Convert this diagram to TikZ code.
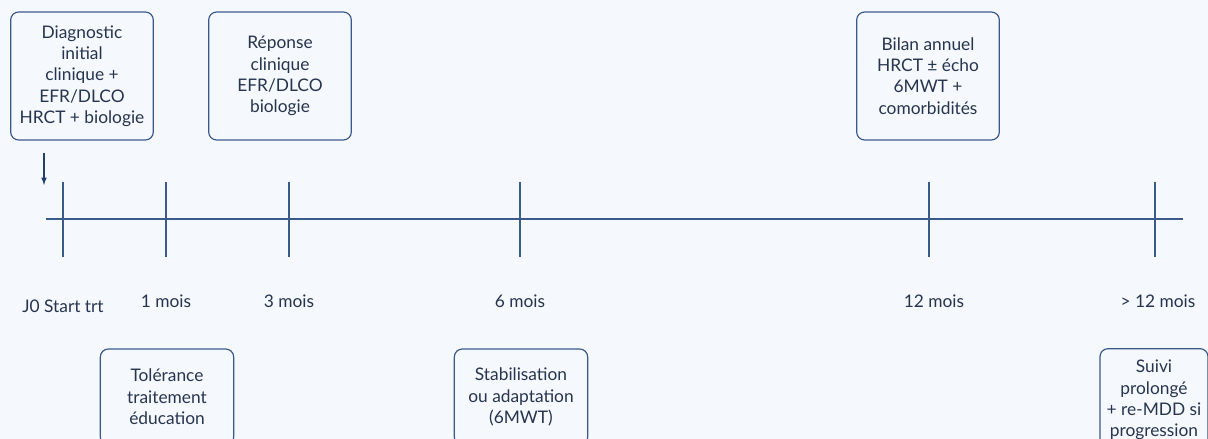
\documentclass[tikz,border=0pt]{standalone}
\usepackage{fontspec}
\setmainfont{Lato}
\usetikzlibrary{calc}
\definecolor{bgcol}{HTML}{F5F8FC}
\definecolor{linecol}{HTML}{3A5A8C}
\definecolor{textcol}{HTML}{26344F}
\definecolor{arrowcol}{HTML}{1F3F6E}

\begin{document}
\begin{tikzpicture}[x=0.75pt,y=-0.75pt,
                    every node/.style={font=\fontsize{13}{16}\selectfont,text=textcol},
                    eventbox/.style={draw=linecol,line width=0.9pt,rounded corners=6pt,fill=bgcol,align=center,inner sep=2pt},
                    topbox/.style={eventbox,minimum width=107pt,minimum height=96pt},
                    lowbox/.style={eventbox,minimum width=100pt,minimum height=72pt},
                    tick/.style={draw=linecol,line width=0.8pt}]
                    \fill[bgcol] (0,0) rectangle (1208,439);
                    \useasboundingbox (0,0) rectangle (1208,439);
                    \def\axisy{219}
                    \def\labely{301}
                    
                    \coordinate (axisstart) at (46,\axisy);
                    \coordinate (axisend) at (1183,\axisy);
                    \draw[tick] (axisstart) -- (axisend); % time axis
                    
                    \foreach \name/\x in {j0/63,m1/166,m3/289,m6/520,m12/929,mlong/1155}{
                      \coordinate (\name) at (\x,\axisy);
                      \draw[tick] (\x,182) -- (\x,257);
                    }
                    
                    % month labels
                    \node (lj0) at (63,306) {J0 Start trt};
                    \node (lm1) at (166,\labely) {1 mois};
                    \node (lm3) at (289,\labely) {3 mois};
                    \node (lm6) at (520,\labely) {6 mois};
                    \node (lm12) at (934,\labely) {12 mois};
                    \node (lmlong) at (1158,\labely) {> 12 mois};
                    
                    % boxes above the axis
                    \node[topbox] (diag) at (82,76) {Diagnostic\\initial\\clinique +\\EFR/DLCO\\HRCT + biologie};
                    \node[topbox] (repo) at (280,76) {Réponse\\clinique\\EFR/DLCO\\biologie};
                    \node[topbox] (bilan) at (928,76) {Bilan annuel\\HRCT ± écho\\6MWT +\\comorbidités};
                    
                    % boxes below the axis
                    \node[lowbox] (tol) at (167,397) {Tolérance\\traitement\\éducation};
                    \node[lowbox] (stab) at (521,397) {Stabilisation\\ou adaptation\\(6MWT)};
                    \node[eventbox,minimum width=81pt,minimum height=77pt] (suivi) at (1154,400) {Suivi\\prolongé\\+ re-MDD si\\progression};
                    
                    \coordinate (arrtop) at (44,153);
                    \coordinate (arrbot) at (44,185);
                    \draw[arrowcol,line width=0.9pt,-latex] (arrtop) -- (arrbot); % start
                \end{tikzpicture}
\end{document}
